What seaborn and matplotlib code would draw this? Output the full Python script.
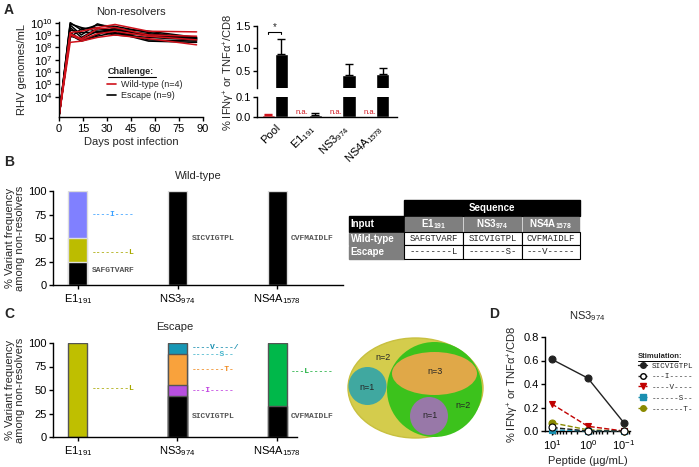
import numpy as np
import pandas as pd
import matplotlib
matplotlib.use("Agg")
import matplotlib.pyplot as plt
import seaborn as sns
from matplotlib.patches import Ellipse, Rectangle
from matplotlib.lines import Line2D

# ---------------- DATA ----------------
# Panel A (left): viral load (log10 genomes/mL)
days = [0, 7, 14, 24, 35, 56, 86]
wt_log = [
    [2.4, 8.4, 8.5, 8.8, 9.0, 8.7, 8.2],
    [2.4, 9.2, 9.3, 9.6, 9.85, 9.3, 9.25],
    [2.4, 9.0, 8.6, 9.1, 9.3, 8.9, 8.6],
    [2.4, 9.1, 8.7, 9.5, 9.6, 9.0, 8.9],
]
esc_log = [
    [2.4, 10.0, 9.4, 9.8, 9.7, 9.2, 8.7],
    [2.4, 9.8, 9.0, 9.9, 9.5, 9.3, 8.8],
    [2.4, 9.6, 8.8, 9.5, 9.4, 9.0, 8.6],
    [2.4, 9.4, 9.2, 9.2, 9.3, 8.6, 8.5],
    [2.4, 9.2, 8.6, 9.0, 9.6, 8.9, 8.7],
    [2.4, 9.0, 8.5, 8.9, 9.2, 8.5, 8.4],
    [2.4, 8.8, 9.5, 9.6, 9.1, 9.0, 8.8],
    [2.4, 9.9, 9.6, 9.3, 9.0, 8.8, 8.6],
    [2.4, 8.9, 8.7, 9.3, 9.4, 9.1, 8.7],
]
wt_label = "Wild-type (n=4)"
esc_label = "Escape (n=9)"

# Panel A (right): % IFNg+ or TNFa+ / CD8
resp_cats = ["Pool", "E1$_{191}$", "NS3$_{974}$", "NS4A$_{1578}$"]
resp_wt = [0.01, np.nan, np.nan, np.nan]
resp_wt_err = [0.006, np.nan, np.nan, np.nan]
resp_esc = [0.88, 0.008, 0.42, 0.43]
resp_esc_err = [0.34, 0.010, 0.24, 0.14]

# Panels B/C: variant frequencies (stack segments bottom -> top)
epi_cats = ["E1$_{191}$", "NS3$_{974}$", "NS4A$_{1578}$"]
wt_stacks = [
    [(25, "black"), (25, "#bcbc00"), (50, "#8080ff")],
    [(100, "black")],
    [(100, "black")],
]
esc_stacks = [
    [(100, "#bfbf00")],
    [(44, "black"), (11, "#b84fe0"), (33, "#f9a23c"), (12, "#1797b5")],
    [(33, "black"), (67, "#00b84a")],
]
# annotations: (category index, y, text, color)
wt_notes = [
    (0, 75, "----I----", "#3aa0ff"),
    (0, 35, "--------L", "#a8a800"),
    (0, 15, "SAFGTVARF", "#555555"),
    (1, 50, "SICVIGTPL", "#555555"),
    (2, 50, "CVFMAIDLF", "#555555"),
]
esc_notes = [
    (0, 52, "--------L", "#a8a800"),
    (1, 95, "----V----/", "#1a8fb0"),
    (1, 88, "------S--", "#45b5cc"),
    (1, 72, "-------T-", "#f08a20"),
    (1, 49, "---I-----", "#c040e0"),
    (1, 22, "SICVIGTPL", "#555555"),
    (2, 70, "---L-----", "#20b040"),
    (2, 22, "CVFMAIDLF", "#555555"),
]

# Table
table_cols = ["E1$_{191}$", "NS3$_{974}$", "NS4A$_{1578}$"]
table_rows = ["Wild-type", "Escape"]
table_seqs = [
    ["SAFGTVARF", "SICVIGTPL", "CVFMAIDLF"],
    ["--------L", "-------S-", "---V-----"],
]

# Venn counts
venn_labels = ["n=2", "n=3", "n=1", "n=1", "n=2"]

# Panel D: dose response
doses = [10.0, 1.0, 0.1]
stim_names = ["SICVIGTPL", "---I-----", "----V----", "------S--", "-------T-"]
stim_vals = [
    [0.61, 0.45, 0.07],
    [0.03, 0.00, 0.00],
    [0.23, 0.04, 0.00],
    [0.01, 0.00, 0.00],
    [0.07, 0.01, 0.00],
]
stim_colors = ["#222222", "#222222", "#c00000", "#1a8fb0", "#8a8a00"]
stim_face = ["#222222", "white", "#c00000", "#1a8fb0", "#8a8a00"]
stim_marker = ["o", "o", "v", "s", "o"]
stim_ls = ["-", "--", "--", "--", "--"]

# ---------------- STYLE ----------------
sns.set_theme(style="ticks")
plt.rcParams['font.family'] = ['Liberation Sans', 'DejaVu Sans']
plt.rcParams['mathtext.fontset'] = 'custom'
plt.rcParams['mathtext.rm'] = 'Liberation Sans'
plt.rcParams['mathtext.it'] = 'Liberation Sans:italic'
plt.rcParams['mathtext.bf'] = 'Liberation Sans:bold'
plt.rcParams['mathtext.default'] = 'regular'
plt.rcParams['axes.linewidth'] = 1.0
plt.rcParams['axes.edgecolor'] = 'black'
plt.rcParams['xtick.color'] = 'black'
plt.rcParams['ytick.color'] = 'black'
plt.rcParams['xtick.major.size'] = 3
plt.rcParams['ytick.major.size'] = 3
plt.rcParams['xtick.major.width'] = 1.0
plt.rcParams['ytick.major.width'] = 1.0
plt.rcParams['xtick.major.pad'] = 2
plt.rcParams['ytick.major.pad'] = 1.5

W, H = 699, 467
fig = plt.figure(figsize=(W / 100, H / 100), dpi=100)


def ax_px(l, t, r, b):
    return fig.add_axes([l / W, 1 - b / H, (r - l) / W, (b - t) / H])


FS = 8
MONO = "Liberation Mono"
RED = "#d0121b"

# panel letters
for lab, x, y in [("A", 4, 10), ("B", 4, 162), ("C", 4, 314), ("D", 489, 314)]:
    fig.text(x / W, 1 - y / H, lab, fontsize=10, fontweight="bold", va="center", ha="left")

# ---------------- Panel A left ----------------
rows = []
u = 0
for lst, lab in [(esc_log, esc_label), (wt_log, wt_label)]:
    for line in lst:
        for d, v in zip(days, line):
            rows.append(dict(day=d, val=10 ** v, challenge=lab, unit=u))
        u += 1
dfA = pd.DataFrame(rows)
axA = ax_px(59, 22, 203, 117)
sns.lineplot(data=dfA, x="day", y="val", hue="challenge", units="unit", estimator=None,
             palette={wt_label: RED, esc_label: "black"}, hue_order=[esc_label, wt_label],
             lw=1.1, ax=axA, legend=False)
axA.set_yscale("log")
axA.set_ylim(10 ** 2.35, 10 ** 10.05)
axA.set_xlim(0, 90)
axA.set_yticks([10.0 ** k for k in range(4, 11)])
axA.set_yticklabels(["10$^{%d}$" % k for k in range(4, 11)], fontsize=FS)
axA.yaxis.set_minor_locator(matplotlib.ticker.NullLocator())
axA.set_xticks(range(0, 91, 15))
axA.tick_params(labelsize=FS)
axA.set_xlabel("Days post infection", fontsize=FS, labelpad=2)
axA.set_ylabel("RHV genomes/mL", fontsize=FS, labelpad=2)
axA.set_title("Non-resolvers", fontsize=FS, pad=5)
sns.despine(ax=axA)
handles = [Line2D([], [], color=RED, lw=1.2, label=wt_label),
           Line2D([], [], color="black", lw=1.2, label=esc_label)]
leg = axA.legend(handles=handles, loc="upper left", bbox_to_anchor=(0.33, 0.39),
                 frameon=False, fontsize=6.5, handlelength=1.0, handletextpad=0.6,
                 labelspacing=0.25, borderpad=0.0, borderaxespad=0)
fig.text(108 / W, 1 - 72 / H, "Challenge:", fontsize=6.5, fontweight="bold", va="center")
fig.add_artist(Line2D([108 / W, 156 / W], [1 - 77 / H, 1 - 77 / H], color="black", lw=0.8))

# ---------------- Panel A right (broken axis) ----------------
dfR = pd.DataFrame({
    "cat": resp_cats * 2,
    "val": resp_wt + resp_esc,
    "grp": ["WT"] * 4 + ["ESC"] * 4,
})
axT = ax_px(257, 26, 397, 88)
axB = ax_px(257, 97, 397, 117)
for ax in (axT, axB):
    sns.barplot(data=dfR, x="cat", y="val", hue="grp", order=resp_cats, hue_order=["WT", "ESC"],
                palette={"WT": RED, "ESC": "black"}, errorbar=None, width=0.78,
                ax=ax, legend=False, saturation=1)
    for i in range(4):
        for off, vals, errs, col in [(-0.195, resp_wt, resp_wt_err, RED),
                                     (0.195, resp_esc, resp_esc_err, "black")]:
            if not np.isnan(vals[i]):
                ax.errorbar(i + off, vals[i], yerr=[[0], [errs[i]]], color=col,
                            capsize=3, lw=1, capthick=1)
    ax.set_xlim(-0.53, 3.62)
    ax.set_xlabel("")
    ax.set_ylabel("")
axT.set_ylim(0.12, 1.5)
axT.set_yticks([0.5, 1.0, 1.5])
axT.set_yticklabels(["0.5", "1.0", "1.5"], fontsize=FS)
axT.set_xticks([])
for s in ["top", "right", "bottom"]:
    axT.spines[s].set_visible(False)
axB.set_ylim(0, 0.1)
axB.set_yticks([0.0, 0.1])
axB.set_yticklabels(["0.0", "0.1"], fontsize=FS)
axB.set_xticks(range(4))
axB.set_xticklabels(resp_cats, rotation=45, ha="right", rotation_mode="anchor", fontsize=FS)
axB.tick_params(axis="x", length=0, pad=4)
sns.despine(ax=axB)
for i in range(1, 4):
    axB.text(i - 0.195, 0.003, "n.a.", color=RED, fontsize=5.5, ha="center", va="bottom")
# significance bracket
axT.plot([-0.195, -0.195, 0.195, 0.195], [1.33, 1.37, 1.37, 1.33], color="black", lw=0.8)
axT.text(0.0, 1.36, "*", ha="center", va="bottom", fontsize=7)
fig.text(229 / W, 1 - 72 / H, "% IFNγ$^{+}$ or TNFα$^{+}$/CD8", rotation=90,
         fontsize=FS, ha="center", va="center")


# ---------------- Panels B & C ----------------
def stacked(ax, stacks, notes, title, edge):
    nlayers = max(len(s) for s in stacks)
    # draw cumulative tops from the tallest down
    for li in range(nlayers - 1, -1, -1):
        for ci, st in enumerate(stacks):
            if li < len(st):
                top = sum(v for v, c in st[:li + 1])
                sns.barplot(x=[epi_cats[ci]], y=[top], order=epi_cats, color=st[li][1],
                            saturation=1, width=0.19, ax=ax, edgecolor=edge, linewidth=1.0)
    for ci, y, txt, col in notes:
        ax.text(ci + 0.14, y, txt, family=MONO, fontweight="bold", color=col,
                fontsize=5.8, va="center", ha="left", clip_on=False)
    ax.set_ylim(0, 100)
    ax.set_yticks([0, 25, 50, 75, 100])
    ax.tick_params(labelsize=FS)
    ax.set_xticks(range(3))
    ax.set_xticklabels(epi_cats, fontsize=FS)
    ax.set_xlabel("")
    ax.set_ylabel("% Variant frequency\namong non-resolvers", fontsize=FS, labelpad=2,
                  linespacing=1.0)
    ax.set_title(title, fontsize=FS, pad=9)
    sns.despine(ax=ax)


axBp = ax_px(53, 191, 343, 285)
stacked(axBp, wt_stacks, wt_notes, "Wild-type", "#dddddd")
axBp.set_xlim(-0.25, 2.66)
axCp = ax_px(53, 343, 297, 437)
stacked(axCp, esc_stacks, esc_notes, "Escape", "#555555")
axCp.set_xlim(-0.25, 2.2)

# ---------------- Table ----------------
axTb = ax_px(345, 198, 585, 262)
axTb.set_xlim(345, 585)
axTb.set_ylim(262, 198)
axTb.axis("off")
col_x = [349, 404, 463, 522, 580]
row_y = [200, 216, 232, 245, 259]
GRAY = "#7f7f7f"
axTb.add_patch(Rectangle((col_x[1], row_y[0]), col_x[4] - col_x[1], row_y[1] - row_y[0], color="black"))
axTb.text((col_x[1] + col_x[4]) / 2, (row_y[0] + row_y[1]) / 2, "Sequence", color="white",
          fontweight="bold", fontsize=7, ha="center", va="center")
axTb.add_patch(Rectangle((col_x[0], row_y[1]), col_x[1] - col_x[0], row_y[2] - row_y[1], color="black"))
axTb.text(col_x[0] + 1.5, (row_y[1] + row_y[2]) / 2, "Input", color="white", fontweight="bold",
          fontsize=7, ha="left", va="center")
for j, c in enumerate(table_cols):
    axTb.add_patch(Rectangle((col_x[j + 1] + 0.6, row_y[1] + 0.6), col_x[j + 2] - col_x[j + 1] - 1.2,
                             row_y[2] - row_y[1] - 0.6, color=GRAY))
    axTb.text((col_x[j + 1] + col_x[j + 2]) / 2, (row_y[1] + row_y[2]) / 2 + 0.5, c, color="white",
              fontweight="bold", fontsize=7, ha="center", va="center")
for i, rname in enumerate(table_rows):
    y0, y1 = row_y[i + 2], row_y[i + 3]
    axTb.add_patch(Rectangle((col_x[0], y0 + 0.6), col_x[1] - col_x[0], y1 - y0 - 0.6, color=GRAY))
    axTb.text(col_x[0] + 1.5, (y0 + y1) / 2, rname, color="white", fontweight="bold",
              fontsize=7, ha="left", va="center")
    for j in range(3):
        axTb.add_patch(Rectangle((col_x[j + 1], y0), col_x[j + 2] - col_x[j + 1], y1 - y0,
                                 facecolor="white", edgecolor="black", lw=0.8))
        axTb.text((col_x[j + 1] + col_x[j + 2]) / 2, (y0 + y1) / 2, table_seqs[i][j], family=MONO,
                  fontsize=6.5, ha="center", va="center")

# ---------------- Venn ----------------
axV = ax_px(343, 333, 488, 443)
axV.set_xlim(343, 488)
axV.set_ylim(443, 333)
axV.axis("off")
axV.add_patch(Ellipse((415.5, 388), 135, 100, facecolor="#d4cc4c", edgecolor="#c8c040", lw=1))
axV.add_patch(Ellipse((434.5, 389.5), 95, 95, facecolor="#3cc21c", edgecolor="none"))
axV.add_patch(Ellipse((434.5, 373.5), 85, 43, facecolor="#e0a848", edgecolor="none"))
axV.add_patch(Ellipse((367.5, 386), 38, 38, facecolor="#40a8a0", edgecolor="none"))
axV.add_patch(Ellipse((429, 416), 38, 38, facecolor="#9878a8", edgecolor="none"))
for (x, y), t in zip([(383, 358), (435, 372), (367, 388), (430, 415), (463, 405)], venn_labels):
    axV.text(x, y, t, fontsize=6.5, ha="center", va="center")

# ---------------- Panel D ----------------
axD = ax_px(545, 337, 630, 431)
for k in range(len(stim_names)):
    sns.lineplot(x=doses, y=stim_vals[k], ax=axD, color=stim_colors[k], marker=stim_marker[k],
                 markerfacecolor=stim_face[k], markeredgecolor=stim_colors[k] if k != 1 else "black",
                 markersize=5, markeredgewidth=0.8, linestyle=stim_ls[k], lw=1.0, clip_on=False,
                 zorder=5 - k * 0.1)
axD.set_xscale("log")
axD.set_xlim(10 ** 1.19, 10 ** -1.17)
axD.set_ylim(0, 0.8)
axD.set_yticks([0.0, 0.2, 0.4, 0.6, 0.8])
axD.set_yticklabels(["0.0", "0.2", "0.4", "0.6", "0.8"], fontsize=FS)
axD.set_xticks(doses)
axD.set_xticklabels(["10$^{1}$", "10$^{0}$", "10$^{-1}$"], fontsize=FS)
axD.xaxis.set_minor_locator(matplotlib.ticker.LogLocator(subs=np.arange(2, 10)))
axD.xaxis.set_minor_formatter(matplotlib.ticker.NullFormatter())
axD.tick_params(axis="x", which="minor", length=2)
axD.set_xlabel("Peptide (µg/mL)", fontsize=FS, labelpad=3)
axD.set_ylabel("% IFNγ$^{+}$ or TNFα$^{+}$/CD8", fontsize=FS, labelpad=2)
axD.set_title("NS3$_{974}$", fontsize=FS, pad=13)
sns.despine(ax=axD)
hD = [Line2D([], [], color=stim_colors[k], marker=stim_marker[k], markerfacecolor=stim_face[k],
             markeredgecolor=stim_colors[k] if k != 1 else "black", markersize=4,
             linestyle=stim_ls[k], lw=1.0, label=stim_names[k]) for k in range(len(stim_names))]
axD.legend(handles=hD, loc="upper left", bbox_to_anchor=(1.08, 0.74), frameon=False,
           prop={"family": MONO, "size": 5.5}, handlelength=1.3, handletextpad=0.6,
           labelspacing=0.45, borderpad=0.1, borderaxespad=0)
fig.text(638 / W, 1 - 357 / H, "Stimulation:", fontsize=5.5, fontweight="bold", va="center")
fig.add_artist(Line2D([638 / W, 678 / W], [1 - 361 / H, 1 - 361 / H], color="black", lw=0.7))

fig.savefig("out.png", dpi=100)
